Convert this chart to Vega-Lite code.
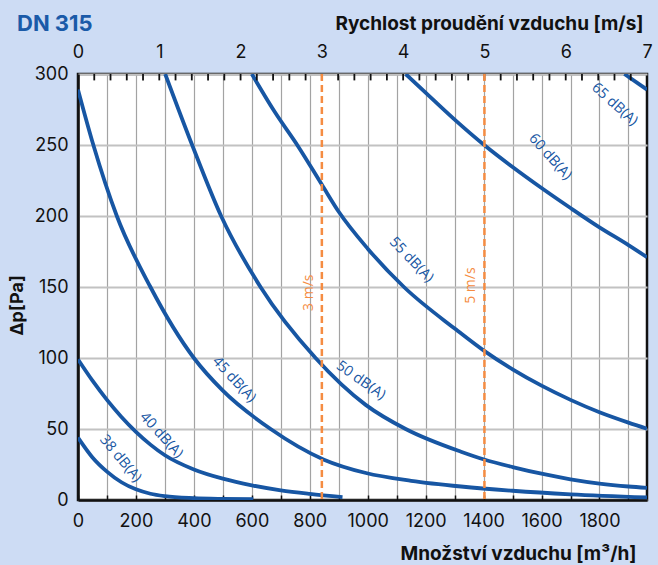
{
  "$schema": "https://vega.github.io/schema/vega-lite/v6.json",
  "width": 569,
  "height": 426,
  "autosize": {"type": "none"},
  "padding": {"left": 78, "top": 74, "right": 11, "bottom": 65},
  "background": "#cddcf4",
  "title": {"text": "DN 315", "anchor": "start", "frame": "group", "font": "Inter", "fontSize": 22, "fontWeight": "bold", "color": "#1a5aa8", "dx": -61, "offset": 0, "dy": 39, "baseline": "alphabetic"},
  "config": {
    "view": {"fill": "#ffffff", "stroke": "#111111", "strokeWidth": 2.5},
    "axis": {"labelFont": "Inter", "labelFontSize": 18, "labelColor": "#111111", "titleFont": "Inter", "titleFontWeight": "bold", "titleFontSize": 19, "titleColor": "#111111", "domainColor": "#111111", "domainWidth": 2.5, "tickColor": "#111111", "labelFlush": false, "labelOverlap": false}
  },
  "datasets": {
    "curves": [
      {"curve": "38", "q": 0, "dp": 44}, {"curve": "38", "q": 50, "dp": 30}, {"curve": "38", "q": 100, "dp": 20}, {"curve": "38", "q": 150, "dp": 12.5}, {"curve": "38", "q": 200, "dp": 7.5}, {"curve": "38", "q": 250, "dp": 4.4}, {"curve": "38", "q": 300, "dp": 2.7}, {"curve": "38", "q": 400, "dp": 1.3}, {"curve": "38", "q": 500, "dp": 0.8}, {"curve": "38", "q": 605, "dp": 0.6},
      {"curve": "40", "q": 0, "dp": 99}, {"curve": "40", "q": 50, "dp": 84}, {"curve": "40", "q": 100, "dp": 70.5}, {"curve": "40", "q": 150, "dp": 58.5}, {"curve": "40", "q": 200, "dp": 48}, {"curve": "40", "q": 250, "dp": 39}, {"curve": "40", "q": 300, "dp": 31.5}, {"curve": "40", "q": 400, "dp": 21.5}, {"curve": "40", "q": 500, "dp": 15}, {"curve": "40", "q": 600, "dp": 10.3}, {"curve": "40", "q": 700, "dp": 6.8}, {"curve": "40", "q": 800, "dp": 4.3}, {"curve": "40", "q": 913, "dp": 2},
      {"curve": "45", "q": 0, "dp": 289}, {"curve": "45", "q": 53, "dp": 250}, {"curve": "45", "q": 134, "dp": 200}, {"curve": "45", "q": 250, "dp": 150}, {"curve": "45", "q": 400, "dp": 100}, {"curve": "45", "q": 500, "dp": 77}, {"curve": "45", "q": 665, "dp": 50}, {"curve": "45", "q": 849, "dp": 28.4}, {"curve": "45", "q": 994, "dp": 19}, {"curve": "45", "q": 1150, "dp": 13.5}, {"curve": "45", "q": 1322, "dp": 9.5}, {"curve": "45", "q": 1500, "dp": 6.5}, {"curve": "45", "q": 1700, "dp": 4}, {"curve": "45", "q": 1964, "dp": 1.8},
      {"curve": "50", "q": 301, "dp": 300}, {"curve": "50", "q": 394, "dp": 250}, {"curve": "50", "q": 494, "dp": 200}, {"curve": "50", "q": 630, "dp": 150}, {"curve": "50", "q": 820, "dp": 100}, {"curve": "50", "q": 993, "dp": 67}, {"curve": "50", "q": 1131, "dp": 50}, {"curve": "50", "q": 1322, "dp": 34}, {"curve": "50", "q": 1402, "dp": 28.5}, {"curve": "50", "q": 1500, "dp": 23.2}, {"curve": "50", "q": 1600, "dp": 18.5}, {"curve": "50", "q": 1700, "dp": 14.6}, {"curve": "50", "q": 1800, "dp": 11.6}, {"curve": "50", "q": 1900, "dp": 9.5}, {"curve": "50", "q": 1964, "dp": 8.5},
      {"curve": "55", "q": 600, "dp": 300}, {"curve": "55", "q": 680, "dp": 273}, {"curve": "55", "q": 760, "dp": 249}, {"curve": "55", "q": 842, "dp": 222}, {"curve": "55", "q": 900, "dp": 203}, {"curve": "55", "q": 1000, "dp": 177}, {"curve": "55", "q": 1125, "dp": 150}, {"curve": "55", "q": 1305, "dp": 120}, {"curve": "55", "q": 1402, "dp": 105}, {"curve": "55", "q": 1500, "dp": 92}, {"curve": "55", "q": 1600, "dp": 80.5}, {"curve": "55", "q": 1700, "dp": 70.5}, {"curve": "55", "q": 1800, "dp": 61.8}, {"curve": "55", "q": 1900, "dp": 54.5}, {"curve": "55", "q": 1964, "dp": 50.2},
      {"curve": "60", "q": 1131, "dp": 300}, {"curve": "60", "q": 1220, "dp": 283}, {"curve": "60", "q": 1305, "dp": 267}, {"curve": "60", "q": 1402, "dp": 250}, {"curve": "60", "q": 1500, "dp": 234.5}, {"curve": "60", "q": 1600, "dp": 219.7}, {"curve": "60", "q": 1700, "dp": 205.6}, {"curve": "60", "q": 1800, "dp": 192}, {"curve": "60", "q": 1900, "dp": 179.5}, {"curve": "60", "q": 1964, "dp": 171},
      {"curve": "65", "q": 1886, "dp": 300}, {"curve": "65", "q": 1964, "dp": 289}
    ],
    "labels": [
      {"q": 146, "dp": 29, "label": "38 dB(A)"},
      {"q": 287, "dp": 45.5, "label": "40 dB(A)"},
      {"q": 538, "dp": 84.7, "label": "45 dB(A)"},
      {"q": 976, "dp": 84, "label": "50 dB(A)"},
      {"q": 1150, "dp": 169, "label": "55 dB(A)"},
      {"q": 1629, "dp": 241.5, "label": "60 dB(A)"},
      {"q": 1852, "dp": 278.4, "label": "65 dB(A)"}
    ],
    "speeds": [
      {"v": 3, "dp": 146, "label": "3 m/s"},
      {"v": 5, "dp": 151, "label": "5 m/s"}
    ],
    "speedTicks": [
      {"v": 0.2}, {"v": 0.4}, {"v": 0.6}, {"v": 0.8}, {"v": 1}, {"v": 1.2}, {"v": 1.4}, {"v": 1.6}, {"v": 1.8},
      {"v": 2}, {"v": 2.2}, {"v": 2.4}, {"v": 2.6}, {"v": 2.8}, {"v": 3}, {"v": 3.2}, {"v": 3.4}, {"v": 3.6}, {"v": 3.8},
      {"v": 4}, {"v": 4.2}, {"v": 4.4}, {"v": 4.6}, {"v": 4.8}, {"v": 5}, {"v": 5.2}, {"v": 5.4}, {"v": 5.6}, {"v": 5.8},
      {"v": 6}, {"v": 6.2}, {"v": 6.4}, {"v": 6.6}, {"v": 6.8}
    ]
  },
  "layer": [
    {
      "encoding": {
        "x": {"field": "q", "type": "quantitative", "scale": {"domain": [0, 1964], "nice": false, "zero": false},
          "axis": {"values": [0, 100, 200, 300, 400, 500, 600, 700, 800, 900, 1000, 1100, 1200, 1300, 1400, 1500, 1600, 1700, 1800, 1900], "format": "d", "labelExpr": "datum.value % 200 === 0 ? datum.label : ''", "grid": true, "gridColor": "#a3a3a3", "gridWidth": 1.2, "tickSize": -5, "tickWidth": 1.5, "labelPadding": 17, "labelBaseline": "top", "title": "Množství vzduchu [m³/h]", "titleX": 558, "titleY": 59, "titleAlign": "right", "titleBaseline": "alphabetic"}},
        "y": {"field": "dp", "type": "quantitative", "scale": {"domain": [0, 300], "nice": false},
          "axis": {"values": [0, 50, 100, 150, 200, 250, 300], "grid": true, "gridColor": "#c2c2c2", "gridWidth": 1.8, "ticks": false, "labelPadding": 10, "title": "Δp[Pa]", "titleX": -61, "titleY": 231, "titleAngle": -90, "titleAlign": "center", "titleBaseline": "middle", "titleFontSize": 18}}
      },
      "layer": [
        {"data": {"name": "curves"}, "mark": {"type": "line", "interpolate": "monotone", "strokeWidth": 3.8, "color": "#1756a3", "clip": true}, "encoding": {"detail": {"field": "curve"}}},
        {"data": {"name": "labels"}, "transform": [{"filter": "datum.label === '38 dB(A)'"}], "mark": {"type": "text", "font": "Open Sans", "fontSize": 14.5, "color": "#1756a3", "align": "center", "baseline": "middle", "angle": 50}, "encoding": {"text": {"field": "label"}}},
        {"data": {"name": "labels"}, "transform": [{"filter": "datum.label === '40 dB(A)'"}], "mark": {"type": "text", "font": "Open Sans", "fontSize": 14.5, "color": "#1756a3", "align": "center", "baseline": "middle", "angle": 48}, "encoding": {"text": {"field": "label"}}},
        {"data": {"name": "labels"}, "transform": [{"filter": "datum.label === '45 dB(A)'"}], "mark": {"type": "text", "font": "Open Sans", "fontSize": 14.5, "color": "#1756a3", "align": "center", "baseline": "middle", "angle": 47}, "encoding": {"text": {"field": "label"}}},
        {"data": {"name": "labels"}, "transform": [{"filter": "datum.label === '50 dB(A)'"}], "mark": {"type": "text", "font": "Open Sans", "fontSize": 14.5, "color": "#1756a3", "align": "center", "baseline": "middle", "angle": 35}, "encoding": {"text": {"field": "label"}}},
        {"data": {"name": "labels"}, "transform": [{"filter": "datum.label === '55 dB(A)'"}], "mark": {"type": "text", "font": "Open Sans", "fontSize": 14.5, "color": "#1756a3", "align": "center", "baseline": "middle", "angle": 46}, "encoding": {"text": {"field": "label"}}},
        {"data": {"name": "labels"}, "transform": [{"filter": "datum.label === '60 dB(A)'"}], "mark": {"type": "text", "font": "Open Sans", "fontSize": 14.5, "color": "#1756a3", "align": "center", "baseline": "middle", "angle": 48}, "encoding": {"text": {"field": "label"}}},
        {"data": {"name": "labels"}, "transform": [{"filter": "datum.label === '65 dB(A)'"}], "mark": {"type": "text", "font": "Open Sans", "fontSize": 14.5, "color": "#1756a3", "align": "center", "baseline": "middle", "angle": 42}, "encoding": {"text": {"field": "label"}}}
      ]
    },
    {
      "data": {"name": "speeds"},
      "encoding": {
        "x": {"field": "v", "type": "quantitative", "scale": {"domain": [0, 7], "nice": false, "zero": false},
          "axis": {"orient": "top", "zindex": 1, "domain": false, "ticks": false, "grid": false, "values": [0, 1, 2, 3, 4, 5, 6, 7], "format": "d", "labelPadding": 17, "labelBaseline": "alphabetic", "title": "Rychlost proudění vzduchu [m/s]", "titleX": 565, "titleY": -45, "titleAlign": "right", "titleBaseline": "alphabetic"}}
      },
      "layer": [
        {"data": {"name": "speedTicks"}, "mark": {"type": "rule", "color": "#111111", "strokeWidth": 1.8}, "encoding": {
          "y": {"datum": 300, "type": "quantitative", "scale": {"domain": [0, 300], "nice": false},
            "axis": {"values": [0, 50, 100, 150, 200, 250, 300], "grid": true, "gridColor": "#c2c2c2", "gridWidth": 1.8, "ticks": false, "labelPadding": 10, "title": "Δp[Pa]", "titleX": -61, "titleY": 231, "titleAngle": -90, "titleAlign": "center", "titleBaseline": "middle", "titleFontSize": 18}},
          "y2": {"datum": 295.5}}},
        {"mark": {"type": "rule", "color": "#f58c42", "strokeWidth": 2.5, "strokeDash": [7, 4]}},
        {"mark": {"type": "text", "font": "Open Sans", "fontSize": 14, "color": "#f58c42", "align": "center", "baseline": "middle", "angle": -90, "dy": -13}, "encoding": {"y": {"field": "dp", "type": "quantitative", "scale": {"domain": [0, 300], "nice": false},
          "axis": {"values": [0, 50, 100, 150, 200, 250, 300], "grid": true, "gridColor": "#c2c2c2", "gridWidth": 1.8, "ticks": false, "labelPadding": 10, "title": "Δp[Pa]", "titleX": -61, "titleY": 231, "titleAngle": -90, "titleAlign": "center", "titleBaseline": "middle", "titleFontSize": 18}}, "text": {"field": "label"}}}
      ]
    }
  ],
  "resolve": {"scale": {"x": "independent"}, "axis": {"x": "independent"}}
}
